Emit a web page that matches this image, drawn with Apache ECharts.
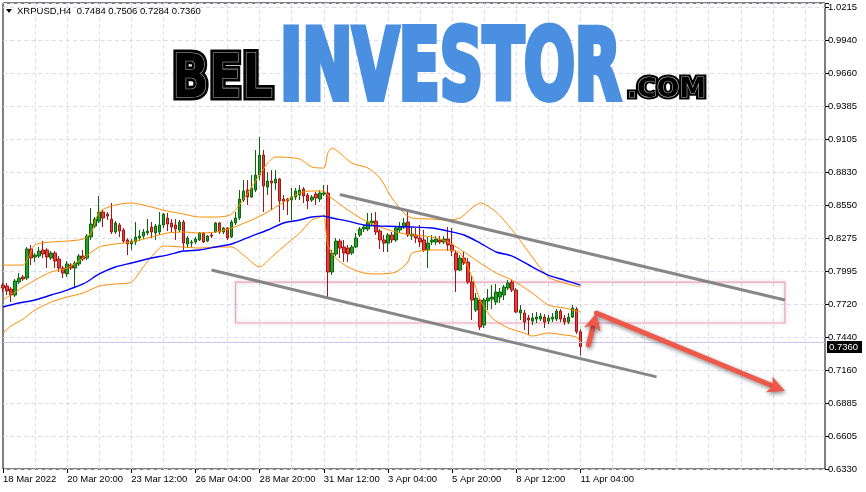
<!DOCTYPE html>
<html><head><meta charset="utf-8">
<script src="https://cdn.jsdelivr.net/npm/echarts@6/dist/echarts.min.js"></script>
<style>html,body{margin:0;padding:0;background:#fff}#c{width:866px;height:492px}</style>
</head><body><div id="c"></div>
<script>
const symbolName = 'XRPUSD,H4';
const tickLabels = ['18 Mar 2022','20 Mar 20:00','23 Mar 12:00','26 Mar 04:00','28 Mar 20:00','31 Mar 12:00','3 Apr 04:00','5 Apr 20:00','8 Apr 12:00','11 Apr 04:00'];
const yTickLabels = ['0.6330','0.6605','0.6885','0.7160','0.7440','0.7720','0.7995','0.8275','0.8550','0.8830','0.9105','0.9385','0.9660','0.9940','1.0215'];

const opens = [0.7877,0.7869,0.7843,0.7793,0.7902,0.7945,0.7936,0.8180,0.8113,0.8121,
0.8172,0.8172,0.8104,0.8146,0.8096,0.8020,0.7970,0.8045,0.8020,0.8054,
0.8121,0.8104,0.8281,0.8373,0.8415,0.8491,0.8474,0.8432,0.8323,0.8382,
0.8340,0.8256,0.8222,0.8239,0.8272,0.8289,0.8315,0.8365,0.8315,0.8323,
0.8382,0.8441,0.8399,0.8382,0.8340,0.8407,0.8222,0.8230,0.8239,0.8256,
0.8315,0.8247,0.8298,0.8323,0.8399,0.8323,0.8357,0.8281,0.8399,0.8441,
0.8592,0.8676,0.8617,0.8676,0.8802,0.8970,0.8701,0.8752,0.8735,0.8769,
0.8600,0.8600,0.8592,0.8617,0.8634,0.8685,0.8634,0.8592,0.8642,0.8600,
0.8642,0.8651,0.7987,0.8138,0.8247,0.8197,0.8188,0.8146,0.8197,0.8298,
0.8348,0.8348,0.8399,0.8415,0.8331,0.8256,0.8230,0.8298,0.8256,0.8340,
0.8365,0.8407,0.8289,0.8298,0.8272,0.8256,0.8172,0.8239,0.8239,0.8256,
0.8239,0.8264,0.8214,0.8146,0.8003,0.8104,0.8071,0.7902,0.7667,0.7751,
0.7541,0.7743,0.7759,0.7734,0.7776,0.7793,0.7852,0.7902,0.7835,0.7642,
0.7642,0.7600,0.7574,0.7591,0.7591,0.7608,0.7574,0.7591,0.7591,0.7658,
0.7600,0.7566,0.7608,0.7675,0.7484];
const closes = [0.7852,0.7827,0.7793,0.7911,0.7936,0.7928,0.8180,0.8104,0.8129,0.8163,
0.8138,0.8113,0.8146,0.8079,0.8020,0.7978,0.8054,0.8020,0.8062,0.8121,
0.8096,0.8289,0.8390,0.8432,0.8491,0.8441,0.8457,0.8323,0.8399,0.8331,
0.8247,0.8222,0.8247,0.8281,0.8289,0.8323,0.8331,0.8323,0.8373,0.8382,
0.8474,0.8390,0.8365,0.8348,0.8407,0.8230,0.8272,0.8239,0.8264,0.8315,
0.8239,0.8289,0.8289,0.8399,0.8323,0.8357,0.8272,0.8407,0.8441,0.8600,
0.8668,0.8617,0.8693,0.8802,0.8970,0.8710,0.8752,0.8735,0.8769,0.8584,
0.8584,0.8584,0.8617,0.8668,0.8676,0.8626,0.8584,0.8617,0.8609,0.8651,
0.8651,0.7987,0.8146,0.8247,0.8188,0.8146,0.8138,0.8197,0.8272,0.8348,
0.8365,0.8407,0.8415,0.8323,0.8256,0.8230,0.8298,0.8256,0.8357,0.8365,
0.8399,0.8298,0.8306,0.8272,0.8239,0.8172,0.8230,0.8256,0.8264,0.8239,
0.8264,0.8214,0.8163,0.8003,0.8104,0.8062,0.7902,0.7751,0.7768,0.7524,
0.7751,0.7768,0.7776,0.7818,0.7818,0.7860,0.7894,0.7835,0.7650,0.7667,
0.7566,0.7583,0.7600,0.7608,0.7616,0.7566,0.7600,0.7608,0.7658,0.7591,
0.7566,0.7608,0.7684,0.7484,0.7360];
const highs = [0.7894,0.7894,0.7860,0.7928,0.7978,0.7961,0.8197,0.8214,0.8146,0.8197,
0.8247,0.8188,0.8163,0.8163,0.8121,0.8037,0.8079,0.8062,0.8079,0.8138,
0.8172,0.8306,0.8525,0.8449,0.8626,0.8508,0.8491,0.8567,0.8415,0.8399,
0.8357,0.8272,0.8264,0.8407,0.8340,0.8348,0.8432,0.8407,0.8390,0.8491,
0.8483,0.8483,0.8432,0.8432,0.8424,0.8424,0.8289,0.8256,0.8281,0.8323,
0.8323,0.8298,0.8323,0.8407,0.8407,0.8365,0.8365,0.8424,0.8491,0.8676,
0.8760,0.8760,0.8802,0.9013,0.9122,0.9013,0.8827,0.8844,0.8844,0.8777,
0.8634,0.8609,0.8693,0.8693,0.8718,0.8701,0.8651,0.8634,0.8659,0.8676,
0.8718,0.8718,0.8172,0.8272,0.8264,0.8256,0.8214,0.8214,0.8315,0.8365,
0.8382,0.8483,0.8483,0.8491,0.8348,0.8298,0.8315,0.8323,0.8373,0.8407,
0.8441,0.8491,0.8357,0.8357,0.8382,0.8340,0.8281,0.8298,0.8289,0.8289,
0.8289,0.8365,0.8357,0.8172,0.8129,0.8163,0.8104,0.7953,0.7810,0.7768,
0.7768,0.7843,0.7877,0.7886,0.7852,0.7877,0.7919,0.7919,0.7852,0.7709,
0.7667,0.7625,0.7642,0.7650,0.7642,0.7633,0.7625,0.7642,0.7675,0.7675,
0.7625,0.7642,0.7709,0.7692,0.7506];
const lows = [0.7818,0.7793,0.7734,0.7776,0.7886,0.7911,0.7919,0.8045,0.8071,0.8104,
0.8104,0.8020,0.8087,0.8020,0.7987,0.7936,0.7945,0.8003,0.7852,0.8037,
0.8079,0.8087,0.8256,0.8357,0.8399,0.8365,0.8424,0.8306,0.8306,0.8281,
0.8230,0.8129,0.8172,0.8214,0.8247,0.8264,0.8298,0.8272,0.8256,0.8298,
0.8357,0.8331,0.8323,0.8256,0.8323,0.8172,0.8188,0.8197,0.8222,0.8247,
0.8230,0.8239,0.8272,0.8315,0.8306,0.8306,0.8256,0.8272,0.8382,0.8424,
0.8575,0.8550,0.8609,0.8659,0.8760,0.8491,0.8634,0.8508,0.8676,0.8407,
0.8508,0.8466,0.8424,0.8592,0.8592,0.8567,0.8516,0.8575,0.8550,0.8575,
0.8626,0.7776,0.7961,0.8121,0.8104,0.8071,0.8071,0.8129,0.8188,0.8281,
0.8323,0.8331,0.8373,0.8298,0.8180,0.8155,0.8155,0.8230,0.8239,0.8315,
0.8348,0.8281,0.8256,0.8230,0.8197,0.8155,0.8020,0.8214,0.8214,0.8222,
0.8222,0.8163,0.8121,0.7818,0.7995,0.8045,0.7886,0.7583,0.7650,0.7499,
0.7516,0.7667,0.7675,0.7709,0.7726,0.7751,0.7835,0.7818,0.7642,0.7583,
0.7499,0.7457,0.7541,0.7558,0.7574,0.7516,0.7549,0.7566,0.7574,0.7566,
0.7541,0.7549,0.7600,0.7465,0.7284];

// Bollinger bands (read at sampled bars) and moving average
const upperIdx = [0,5,6,8,12,16,20,22,24,28,32,37,41,45,49,53,57,62,66,68,74,77,80,81,82,84,87,91,94,97,100,102,107,111,114,117,119,123,127,132,136,140,144];
const upperVal = [0.8045,0.8045,0.8087,0.8214,0.8239,0.8247,0.8264,0.8315,0.8491,0.8550,0.8567,0.8533,0.8499,0.8474,0.8449,0.8449,0.8474,0.8701,0.8903,0.8954,0.8937,0.8870,0.8861,0.8987,0.9029,0.8987,0.8903,0.8861,0.8777,0.8609,0.8483,0.8441,0.8432,0.8424,0.8441,0.8525,0.8567,0.8491,0.8340,0.8113,0.7945,0.7894,0.7860];
const midIdx = [0,3,8,12,16,20,24,28,32,37,41,45,49,53,57,62,66,70,74,77,80,81,86,90,94,98,102,107,111,115,119,123,127,132,136,140,144];
const midVal = [0.7751,0.7818,0.7919,0.7987,0.8020,0.8104,0.8197,0.8222,0.8239,0.8281,0.8315,0.8323,0.8315,0.8323,0.8357,0.8424,0.8491,0.8575,0.8651,0.8668,0.8668,0.8634,0.8508,0.8424,0.8365,0.8323,0.8298,0.8281,0.8239,0.8155,0.8062,0.7978,0.7919,0.7810,0.7709,0.7684,0.7650];
const lowIdx = [0,2,5,8,12,16,20,24,28,32,35,37,40,45,49,53,57,60,64,67,71,74,77,79,80,81,83,86,90,94,98,101,102,107,111,114,117,119,122,126,130,132,136,140,143,144];
const lowVal = [0.7474,0.7532,0.7591,0.7667,0.7734,0.7776,0.7810,0.7869,0.7886,0.7902,0.8029,0.8113,0.8205,0.8197,0.8188,0.8197,0.8197,0.8129,0.8029,0.8113,0.8230,0.8315,0.8424,0.8449,0.8466,0.8214,0.8104,0.8029,0.7978,0.7970,0.7987,0.8071,0.8146,0.8172,0.8172,0.8146,0.7945,0.7751,0.7600,0.7516,0.7474,0.7448,0.7474,0.7457,0.7440,0.7398];
const maIdx = [0,4,8,12,16,20,24,28,32,37,41,45,49,53,57,62,66,70,74,77,80,82,86,90,94,102,107,111,115,119,123,127,132,136,140,144];
const maVal = [0.7692,0.7726,0.7751,0.7793,0.7835,0.7886,0.7970,0.8029,0.8062,0.8104,0.8129,0.8163,0.8172,0.8197,0.8222,0.8289,0.8340,0.8399,0.8424,0.8449,0.8457,0.8441,0.8415,0.8382,0.8373,0.8365,0.8357,0.8331,0.8298,0.8230,0.8155,0.8121,0.8029,0.7961,0.7919,0.7877];

// drawn annotations (bar index, price)
const trendUpIdx = [84, 195], trendUpVal = [0.8638, 0.7751];
const trendLowIdx = [52, 163], trendLowVal = [0.8003, 0.7105];
const zoneIdx = [58, 195], zoneVal = [0.7902, 0.7558];
const arrow1Idx = [146, 148], arrow1Val = [0.7373, 0.7642];
const arrow2Idx = [148, 195], arrow2Val = [0.7642, 0.6986];

const N_SLOTS = 206;
const Y_MIN = 0.6330, Y_MAX = 1.0249, Y_STEP = 0.02775;
const FONT = '"Liberation Sans", Arial, sans-serif';

const categories = Array.from({length: N_SLOTS}, (_, i) => String(i));
const showTick = i => i % 16 === 0 && i / 16 < tickLabels.length;
const zip = (a, b) => a.map((v, i) => [v, b[i]]);
const candles = opens.map((o, i) => [o, closes[i], lows[i], highs[i]]);
const last = candles.length - 1;

const chart = echarts.init(document.getElementById('c'));
const gridLine = {color: '#dcdcee', type: [4, 3], width: 1};
const bandLine = (name, idx, val, color, w) => ({
  name, type: 'line', data: zip(idx, val), showSymbol: false, symbol: 'none',
  smooth: 0.25, lineStyle: {color, width: w}, z: 4, silent: true
});
chart.setOption({
  animation: false,
  backgroundColor: '#ffffff',
  grid: {left: 3, right: 41, top: 3, bottom: 23, show: true, borderColor: '#000', borderWidth: 1},
  xAxis: {
    type: 'category', data: categories, boundaryGap: false,
    axisLine: {show: false},
    axisTick: {show: true, interval: i => showTick(i), length: 4, lineStyle: {color: '#000'}},
    axisLabel: {interval: i => showTick(i), formatter: (v, i) => (i % 16 === 0 ? (tickLabels[i / 16] || '') : ''),
      align: 'left', margin: 5, fontSize: 9.5, color: '#000', fontFamily: FONT},
    splitLine: {show: true, interval: i => i % 8 === 0 && i > 0, lineStyle: gridLine}
  },
  yAxis: [
    {type: 'value', min: Y_MIN, max: Y_MAX, position: 'right', show: false, splitLine: {show: false}},
    {type: 'value', min: 0, max: Y_MAX - Y_MIN, interval: Y_STEP, position: 'right',
      axisLine: {show: false},
      axisTick: {show: true, length: 4, lineStyle: {color: '#000'}},
      axisLabel: {margin: 3, fontSize: 9.5, color: '#000', fontFamily: FONT, showMaxLabel: true,
        formatter: v => { const k = Math.round(v / Y_STEP); return Math.abs(v - k * Y_STEP) < 1e-6 ? (yTickLabels[k] || '') : ''; }},
      splitLine: {show: true, lineStyle: gridLine}}
  ],
  series: [
    {type: 'candlestick', data: candles, barWidth: 3, z: 3, silent: true,
      itemStyle: {color: '#22a322', color0: '#e6403a', borderColor: '#0b650b', borderColor0: '#a01515', borderWidth: 1},
      markLine: {silent: true, symbol: ['none', 'none'], animation: false,
        data: [{yAxis: closes[last]}],
        lineStyle: {color: '#c6c6ee', width: 1, type: 'solid'},
        label: {show: false}}},
    bandLine('upper', upperIdx, upperVal, '#ff8c00', 1),
    bandLine('middle', midIdx, midVal, '#ff8c00', 1),
    bandLine('lower', lowIdx, lowVal, '#ff8c00', 1),
    bandLine('ma', maIdx, maVal, '#0000ff', 1.4),
    {type: 'line', data: zip(trendUpIdx, trendUpVal), symbol: 'none', silent: true, z: 6,
      lineStyle: {color: '#7a7a7a', width: 3, opacity: 0.9}},
    {type: 'line', data: zip(trendLowIdx, trendLowVal), symbol: 'none', silent: true, z: 6,
      lineStyle: {color: '#7a7a7a', width: 3, opacity: 0.9}}
  ]
});

// ---- annotations placed through the chart's own scales
const px = (i, v) => chart.convertToPixel({xAxisIndex: 0, yAxisIndex: 0}, [i, v]);
const g = [];
const z0 = px(zoneIdx[0], zoneVal[0]), z1 = px(zoneIdx[1], zoneVal[1]);
g.push({type: 'rect', z: 1, silent: true,
  shape: {x: z0[0], y: z0[1], width: z1[0] - z0[0], height: z1[1] - z0[1]},
  style: {fill: 'rgba(255,255,255,0)', stroke: '#f3a0bd', lineWidth: 1.2,
    shadowBlur: 4, shadowColor: 'rgba(0,0,0,0.25)'}});

// current price tag on the price scale
const pTag = px(last, closes[last]);
g.push({type: 'rect', silent: true, z: 20, shape: {x: 827, y: Math.round(pTag[1]) - 6, width: 35, height: 12}, style: {fill: '#000'}});
g.push({type: 'text', silent: true, z: 21, x: 829, y: Math.round(pTag[1]) + 0.5, style: {
  text: closes[last].toFixed(4), font: '9.5px ' + FONT, fill: '#fff', align: 'left', verticalAlign: 'middle'}});

function arrow(p0, p1) {
  const dx = p1[0] - p0[0], dy = p1[1] - p0[1], L = Math.hypot(dx, dy);
  const ux = dx / L, uy = dy / L, nx = -uy, ny = ux;
  const hl = 17, hw = 8.5;
  const b = [p1[0] - ux * hl, p1[1] - uy * hl];
  const sh = {shadowBlur: 4, shadowColor: 'rgba(0,0,0,0.45)', shadowOffsetX: 1, shadowOffsetY: 2};
  const col = '#f0584a';
  g.push({type: 'line', z: 100, silent: true,
    shape: {x1: p0[0], y1: p0[1], x2: b[0] + ux * 4, y2: b[1] + uy * 4},
    style: Object.assign({stroke: col, lineWidth: 5, lineCap: 'round'}, sh)});
  g.push({type: 'polygon', z: 101, silent: true,
    shape: {points: [p1, [b[0] + nx * hw, b[1] + ny * hw], [b[0] + ux * 4, b[1] + uy * 4], [b[0] - nx * hw, b[1] - ny * hw]]},
    style: Object.assign({fill: col}, sh)});
}
arrow(px(arrow1Idx[0], arrow1Val[0]), px(arrow1Idx[1], arrow1Val[1]));
arrow(px(arrow2Idx[0], arrow2Val[0]), px(arrow2Idx[1], arrow2Val[1]));

// ---- header text
g.push({type: 'polygon', silent: true, shape: {points: [[6, 9], [12, 9], [9, 13]]}, style: {fill: '#000'}});
const o = candles[last];
g.push({type: 'text', silent: true, x: 17, y: 11, style: {
  text: symbolName + '  ' + [o[0], o[3], o[2], o[1]].map(v => v.toFixed(4)).join(' '),
  font: '9.5px ' + FONT, fill: '#000', verticalAlign: 'middle', align: 'left'}});

// ---- watermark logo
const mctx = document.createElement('canvas').getContext('2d');
const LOGO_FONT = '"Liberation Sans Narrow","DejaVu Sans Condensed","Liberation Sans",sans-serif';
function logo(txt, left, right, capTop, capBot, layers) {
  const fs = (capBot - capTop) / 0.72;
  const font = 'bold ' + fs.toFixed(1) + 'px ' + LOGO_FONT;
  mctx.font = font;
  const s = (right - left) / mctx.measureText(txt).width;
  layers.forEach(st => g.push({type: 'text', silent: true, x: left, y: (capTop + capBot) / 2 + 0.075 * fs + 1, scaleX: s, z: 10,
    style: Object.assign({text: txt, font, align: 'left', verticalAlign: 'middle'}, st)}));
}
const bw = [{fill: '#000', stroke: '#000', lineWidth: 7}, {fill: '#000', stroke: '#b8b8b8', lineWidth: 1.2}];
logo('BEL', 172, 273, 54, 98, bw);
logo('INVESTOR', 280, 621, 29, 100, [{fill: '#4a8fe0', stroke: '#4a8fe0', lineWidth: 6, lineJoin: 'miter',
  shadowBlur: 3, shadowColor: 'rgba(0,0,0,0.35)', shadowOffsetX: 1, shadowOffsetY: 1}]);
logo('.COM', 627, 706, 78, 97, [{fill: '#000', stroke: '#000', lineWidth: 5}, {fill: '#000', stroke: '#b8b8b8', lineWidth: 1}]);

chart.setOption({graphic: g});
</script></body></html>
